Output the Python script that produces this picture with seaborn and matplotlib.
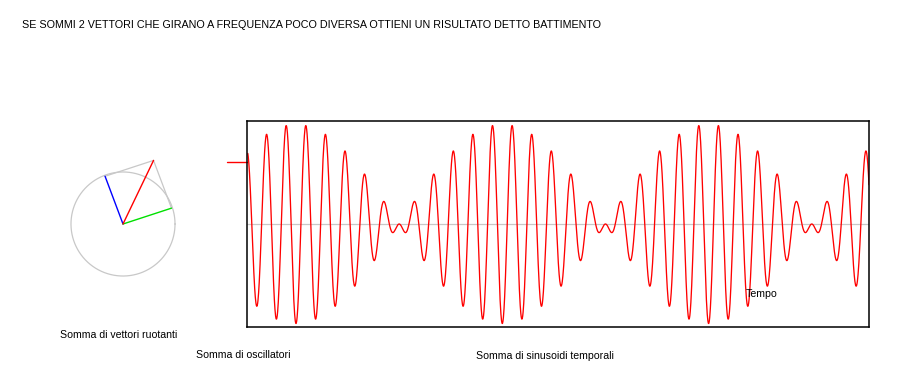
import numpy as np
import pandas as pd
import matplotlib
matplotlib.use("Agg")
import matplotlib.pyplot as plt
import seaborn as sns

# ---------------- data ----------------
# two oscillators that are summed (frequency in beats-per-unit, amplitude, phase in degrees)
osc_freq = [11.0, 10.0]
osc_amp = [1.0, 1.0]
osc_phase_deg = [49.5, 135.0]
time_span = [0.0, 3.015]

# current state of the rotating vectors (angle in degrees, length)
vec_angle_deg = [110.6, 18.1]     # blue, green
vec_len = [1.0, 1.0]
vec_colors = ["#0000ff", "#00e000"]

title_text = "SE SOMMI 2 VETTORI CHE GIRANO A FREQUENZA POCO DIVERSA OTTIENI UN RISULTATO DETTO BATTIMENTO"
label_vectors = "Somma di vettori ruotanti"
label_osc = "Somma di oscillatori"
label_sin = "Somma di sinusoidi temporali"
label_time = "Tempo"

# ---------------- figure ----------------
W, H = 914, 376
DPI = 100
sns.set_theme(style="white")
plt.rcParams["font.family"] = ["Liberation Sans", "DejaVu Sans"]
fig = plt.figure(figsize=(W / DPI, H / DPI), dpi=DPI, facecolor="white")

def fx(px):
    return px / W

def fy(py):
    return 1 - py / H

# ---- time plot ----
L, R, T, B = 247, 869, 121, 327
ax = fig.add_axes([fx(L), fy(B), (R - L) / W, (B - T) / H])
t = np.linspace(time_span[0] + 0.004, time_span[1], 3000)
signal = np.zeros_like(t)
for f, a, p in zip(osc_freq, osc_amp, osc_phase_deg):
    signal += a * np.sin(2 * np.pi * f * t + np.radians(p))
df = pd.DataFrame({"t": t, "y": signal})
ax.axhline(0, color="#c8c8c8", lw=0.9, zorder=1)
sns.lineplot(data=df, x="t", y="y", ax=ax, color="#ff0000", lw=0.95, zorder=2)
ymax = 2.07
ax.set_xlim(time_span[0], time_span[1])
ax.set_ylim(-ymax, ymax)
ax.set_xticks([])
ax.set_yticks([])
ax.set_xlabel("")
ax.set_ylabel("")
for s in ax.spines.values():
    s.set_visible(True)
    s.set_color("black")
    s.set_linewidth(1.1)
ax.set_facecolor("white")
ax.text(2.418, -1.47, label_time, fontsize=7.6, color="black", ha="left", va="baseline", zorder=3)

# projection of the current sum vector (red dash left of the plot)
vx = [l * np.cos(np.radians(a)) for l, a in zip(vec_len, vec_angle_deg)]
vy = [l * np.sin(np.radians(a)) for l, a in zip(vec_len, vec_angle_deg)]
sum_x, sum_y = sum(vx), sum(vy)
ax.plot([-0.097, 0.0], [sum_y, sum_y], color="#ff0000", lw=1.0, clip_on=False)

# ---- rotating vectors ----
cx, cy = 123, 224
scale = 51.0  # px per unit length
half = 75
vax = fig.add_axes([fx(cx - half), fy(cy + half), 2 * half / W, 2 * half / H])
vax.set_xlim(-half / scale, half / scale)
vax.set_ylim(-half / scale, half / scale)
vax.axis("off")
theta = np.linspace(0, 2 * np.pi, 400)
vax.plot(1.02 * np.cos(theta), 1.02 * np.sin(theta), color="#c8c8c8", lw=0.9)
# parallelogram completion lines
vax.plot([vx[0], sum_x], [vy[0], sum_y], color="#c8c8c8", lw=0.9)
vax.plot([vx[1], sum_x], [vy[1], sum_y], color="#c8c8c8", lw=0.9)
for x_, y_, c in zip(vx, vy, vec_colors):
    vax.plot([0, x_], [0, y_], color=c, lw=1.0)
vax.plot([0, sum_x], [0, sum_y], color="#ff0000", lw=1.0)

# ---- texts ----
fig.text(fx(22.5), fy(28.3), title_text, fontsize=7.72, ha="left", va="baseline", color="black")
fig.text(fx(60.5), fy(338.3), label_vectors, fontsize=7.6, ha="left", va="baseline", color="black")
fig.text(fx(196), fy(358.5), label_osc, fontsize=7.6, ha="left", va="baseline", color="black")
fig.text(fx(476), fy(359), label_sin, fontsize=7.6, ha="left", va="baseline", color="black")

fig.savefig("out.png", dpi=DPI, facecolor="white")
